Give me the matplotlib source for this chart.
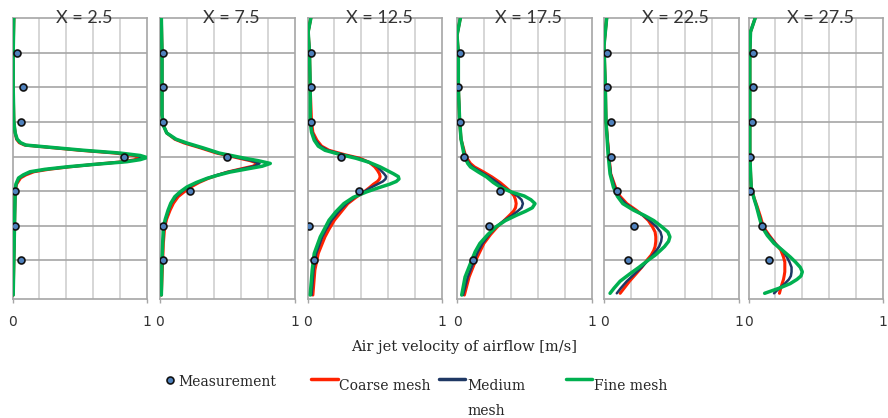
import numpy as np
import matplotlib
matplotlib.use("Agg")
import matplotlib.pyplot as plt

# velocity profiles at six stations, y = height level, v = air jet velocity [m/s]
titles = ['X = 2.5', 'X = 7.5', 'X = 12.5', 'X = 17.5', 'X = 22.5', 'X = 27.5']

meas_y = [7, 6, 5, 4, 3, 2, 1]
meas1 = [0.3, 0.8, 0.6, 8.3, 0.2, 0.2, 0.6]
meas2 = [0.2, 0.2, 0.2, 5.0, 2.2, 0.2, 0.2]
meas3 = [0.25, 0.25, 0.25, 2.5, 3.8, 0.1, 0.5]
meas4 = [0.2, 0.1, 0.25, 0.5, 3.2, 2.4, 1.2]
meas5 = [0.2, 0.2, 0.5, 0.5, 1.0, 2.2, 1.75]
meas6 = [0.3, 0.3, 0.25, 0.1, 0.1, 1.0, 1.5]

y1 = [8, 7, 6, 5, 4.68, 4.5, 4.4, 4.33, 4.26, 4.18, 4.1, 4.03, 3.97, 3.91, 3.85,
      3.77, 3.7, 3.63, 3.56, 3.47, 3.38, 3.2, 3.0, 2, 1, 0]
coarse1 = [0.1, 0.05, 0.05, 0.1, 0.2, 0.3, 0.5, 0.9, 2.8, 5.0, 7.6, 9.0, 9.5, 9.1, 8.2,
           6.0, 4.2, 2.7, 1.6, 1.0, 0.6, 0.3, 0.2, 0.15, 0.1, 0.05]
medium1 = [0.1, 0.05, 0.05, 0.1, 0.2, 0.32, 0.55, 0.95, 2.9, 5.1, 7.8, 9.2, 9.7, 9.3, 8.3,
           6.0, 4.1, 2.5, 1.45, 0.9, 0.5, 0.28, 0.2, 0.15, 0.1, 0.05]
fine1 = [0.1, 0.05, 0.05, 0.1, 0.2, 0.35, 0.6, 1.0, 3.0, 5.3, 8.0, 9.5, 10.0, 9.5, 8.5,
         6.0, 4.0, 2.4, 1.3, 0.8, 0.45, 0.25, 0.2, 0.15, 0.1, 0.05]

y2 = [8, 7, 6, 5.2, 4.9, 4.68, 4.5, 4.39, 4.25, 4.1, 3.95, 3.88, 3.8, 3.72, 3.65,
      3.55, 3.45, 3.37, 3.25, 3.12, 2.98, 2.84, 2.65, 2.45, 2.2, 1.97, 1.5, 1, 0]
coarse2 = [0.1, 0.15, 0.15, 0.15, 0.25, 0.5, 1.1, 1.8, 3.0, 4.2, 5.9, 6.7, 7.3, 6.9, 6.1,
           5.0, 4.2, 3.6, 2.9, 2.3, 1.8, 1.35, 1.0, 0.75, 0.5, 0.35, 0.25, 0.2, 0.1]
medium2 = [0.1, 0.15, 0.15, 0.15, 0.25, 0.5, 1.15, 1.9, 3.1, 4.3, 6.0, 6.8, 7.4, 7.0, 6.2,
           5.0, 4.1, 3.5, 2.8, 2.1, 1.6, 1.2, 0.85, 0.65, 0.45, 0.3, 0.2, 0.15, 0.1]
fine2 = [0.1, 0.15, 0.15, 0.15, 0.25, 0.5, 1.2, 2.0, 3.2, 4.4, 6.3, 7.3, 8.2, 7.6, 6.6,
         5.2, 4.2, 3.5, 2.7, 2.0, 1.5, 1.1, 0.8, 0.6, 0.4, 0.25, 0.2, 0.15, 0.1]

y3 = [8, 7.6, 7, 6, 5, 4.7, 4.47, 4.3, 4.18, 4.05, 3.95, 3.83, 3.7, 3.6, 3.5,
      3.42, 3.35, 3.28, 3.2, 3.1, 2.98, 2.82, 2.64, 2.4, 2.16, 1.9, 1.68, 1.2, 0.72, 0]
coarse3 = [0.25, 0.05, 0.15, 0.2, 0.3, 0.4, 0.7, 1.05, 1.6, 2.8, 3.9, 4.6, 5.0, 5.2, 5.35,
           5.4, 5.35, 5.2, 4.9, 4.6, 4.2, 3.6, 3.0, 2.5, 2.0, 1.6, 1.3, 0.8, 0.55, 0.4]
medium3 = [0.25, 0.05, 0.15, 0.2, 0.25, 0.35, 0.6, 0.95, 1.5, 2.7, 3.8, 4.6, 5.2, 5.45, 5.7,
           5.85, 5.8, 5.6, 5.2, 4.7, 4.2, 3.5, 2.9, 2.3, 1.8, 1.4, 1.1, 0.65, 0.45, 0.3]
fine3 = [0.25, 0.05, 0.15, 0.2, 0.2, 0.3, 0.5, 0.8, 1.3, 2.5, 3.6, 4.6, 5.4, 5.9, 6.4,
         6.75, 6.8, 6.6, 6.1, 5.3, 4.4, 3.4, 2.7, 2.1, 1.6, 1.25, 0.95, 0.5, 0.35, 0.2]

y4 = [8, 7.5, 7, 6, 5, 4.5, 4.0, 3.8, 3.7, 3.55, 3.41, 3.25, 3.12, 2.98, 2.86,
      2.75, 2.64, 2.52, 2.42, 2.3, 2.15, 1.97, 1.75, 1.49, 1.25, 1.01, 0.52, 0]
coarse4 = [0.25, 0.0, 0.1, 0.1, 0.2, 0.3, 0.65, 1.0, 1.3, 2.0, 2.6, 3.2, 3.6, 4.0, 4.25,
           4.35, 4.4, 4.35, 4.2, 3.9, 3.5, 3.0, 2.5, 2.0, 1.7, 1.4, 0.9, 0.55]
medium4 = [0.25, 0.0, 0.1, 0.1, 0.2, 0.3, 0.6, 0.9, 1.15, 1.8, 2.4, 3.0, 3.4, 4.0, 4.5,
           4.8, 4.9, 4.8, 4.5, 4.1, 3.5, 2.9, 2.4, 1.9, 1.55, 1.3, 0.8, 0.45]
fine4 = [0.25, 0.0, 0.1, 0.1, 0.2, 0.3, 0.55, 0.8, 1.0, 1.6, 2.2, 2.7, 3.2, 4.0, 5.0,
         5.5, 5.8, 5.6, 5.1, 4.4, 3.6, 2.9, 2.3, 1.7, 1.35, 1.1, 0.6, 0.35]

y5 = [8, 7.2, 6, 5, 4.09, 3.5, 3.12, 2.85, 2.64, 2.45, 2.3, 2.15, 1.97, 1.82, 1.68,
      1.55, 1.4, 1.29, 1.15, 1.01, 0.8, 0.62, 0.4, 0.2, 0.05]
coarse5 = [0.2, 0.0, 0.1, 0.15, 0.35, 0.5, 0.85, 1.2, 1.7, 2.4, 2.9, 3.3, 3.6, 3.8, 3.85,
           3.85, 3.8, 3.7, 3.5, 3.2, 2.8, 2.4, 1.9, 1.5, 1.2]
medium5 = [0.2, 0.0, 0.1, 0.15, 0.35, 0.5, 0.8, 1.1, 1.6, 2.3, 2.9, 3.4, 3.9, 4.2, 4.3,
           4.25, 4.1, 3.9, 3.6, 3.3, 2.8, 2.3, 1.7, 1.25, 0.95]
fine5 = [0.2, 0.0, 0.1, 0.15, 0.3, 0.45, 0.7, 1.0, 1.4, 2.2, 3.0, 3.7, 4.3, 4.75, 4.9,
         4.8, 4.5, 4.2, 3.8, 3.3, 2.6, 1.95, 1.2, 0.75, 0.45]

y6 = [8, 7.6, 7, 6, 5, 4, 3.12, 2.8, 2.55, 2.25, 1.97, 1.72, 1.49, 1.3, 1.1,
      0.95, 0.8, 0.67, 0.55, 0.45, 0.33, 0.2, 0.05]
coarse6 = [0.5, 0.15, 0.1, 0.1, 0.1, 0.1, 0.2, 0.42, 0.65, 0.9, 1.1, 1.55, 2.0, 2.4, 2.6,
           2.7, 2.7, 2.7, 2.65, 2.6, 2.5, 2.4, 2.3]
medium6 = [0.5, 0.15, 0.1, 0.1, 0.1, 0.1, 0.2, 0.4, 0.6, 0.85, 1.05, 1.5, 2.0, 2.5, 2.85,
           3.05, 3.2, 3.2, 3.15, 3.0, 2.7, 2.3, 1.9]
fine6 = [0.5, 0.15, 0.1, 0.1, 0.1, 0.1, 0.2, 0.4, 0.6, 0.8, 1.0, 1.4, 1.9, 2.5, 3.1,
         3.5, 3.85, 4.0, 3.9, 3.6, 3.1, 2.3, 1.2]

panels = [
    (y1, coarse1, medium1, fine1, meas1),
    (y2, coarse2, medium2, fine2, meas2),
    (y3, coarse3, medium3, fine3, meas3),
    (y4, coarse4, medium4, fine4, meas4),
    (y5, coarse5, medium5, fine5, meas5),
    (y6, coarse6, medium6, fine6, meas6),
]

RED = '#ff2200'
NAVY = '#1f3864'
GREEN = '#00b050'
DOT = '#4f81bd'
GRID_H = '#a6a6a6'
GRID_V = '#d0d0d0'

W, H = 888, 418
fig = plt.figure(figsize=(W / 100, H / 100), dpi=100)

lefts = [12.5, 160, 307.5, 457, 604, 748.5]
pw = 134.5
top, bot = 18, 298.5

line_kw = dict(solid_capstyle='round', solid_joinstyle='round')

for i, (yy, c, m, f, ms) in enumerate(panels):
    ax = fig.add_axes([lefts[i] / W, 1 - bot / H, pw / W, (bot - top) / H])
    ax.set_xlim(0, 10)
    ax.set_ylim(-0.1, 8)

    ax.plot(c, yy, color=RED, lw=2.2, zorder=3, **line_kw)
    ax.plot(m, yy, color=NAVY, lw=1.8, zorder=4, **line_kw)
    ax.plot(f, yy, color=GREEN, lw=2.5, zorder=5, **line_kw)
    ax.plot(ms, meas_y, 'o', ms=5, mfc=DOT, mec='#111111', mew=1.2, zorder=6)

    ax.set_xticks([0, 10])
    ax.set_xticklabels(['0', '1'])
    ax.set_xticks([2, 4, 6, 8], minor=True)
    ax.set_yticks([1, 2, 3, 4, 5, 6, 7])
    ax.set_yticklabels([])
    ax.tick_params(axis='y', length=0)
    ax.tick_params(axis='x', which='major', length=3, width=1, color=GRID_H,
                   pad=9, labelsize=10, labelcolor='#333333')
    ax.tick_params(axis='x', which='minor', length=0)
    ax.grid(axis='y', which='major', color=GRID_H, lw=1.2, zorder=1)
    ax.grid(axis='x', which='minor', color=GRID_V, lw=1.2, zorder=1)
    for s in ax.spines.values():
        s.set_color(GRID_H)
        s.set_linewidth(1.2)
    ax.set_axisbelow(True)

    ax.text(0.533, 1 - 5 / (bot - top), titles[i], transform=ax.transAxes,
            ha='center', va='baseline', fontsize=13, family='Lato', color='#333333')

fig.text(464 / W, 1 - 347 / H, 'Air jet velocity of airflow [m/s]', ha='center',
         va='center', family='DejaVu Serif', fontsize=10.5, color='#262626')

# legend drawn in a pixel-coordinate overlay
lg = fig.add_axes([0, 0, 1, 1])
lg.set_xlim(0, W)
lg.set_ylim(H, 0)
lg.axis('off')
lg.plot([170], [380], 'o', ms=5, mfc=DOT, mec='#111111', mew=1.2)
lg.plot([311, 338], [379, 379], color=RED, lw=2.5, solid_capstyle='round')
lg.plot([439, 465], [379, 379], color=NAVY, lw=2.5, solid_capstyle='round')
lg.plot([566, 592], [379, 379], color=GREEN, lw=2.5, solid_capstyle='round')
leg_font = dict(family='DejaVu Serif', fontsize=10, color='#262626', va='center', ha='left')
lg.text(178, 382, 'Measurement', **leg_font)
lg.text(339, 386, 'Coarse mesh', **leg_font)
lg.text(467, 386, 'Medium', **leg_font)
lg.text(467, 411, 'mesh', **leg_font)
lg.text(594, 386, 'Fine mesh', **leg_font)

fig.savefig('out.png', dpi=100)
